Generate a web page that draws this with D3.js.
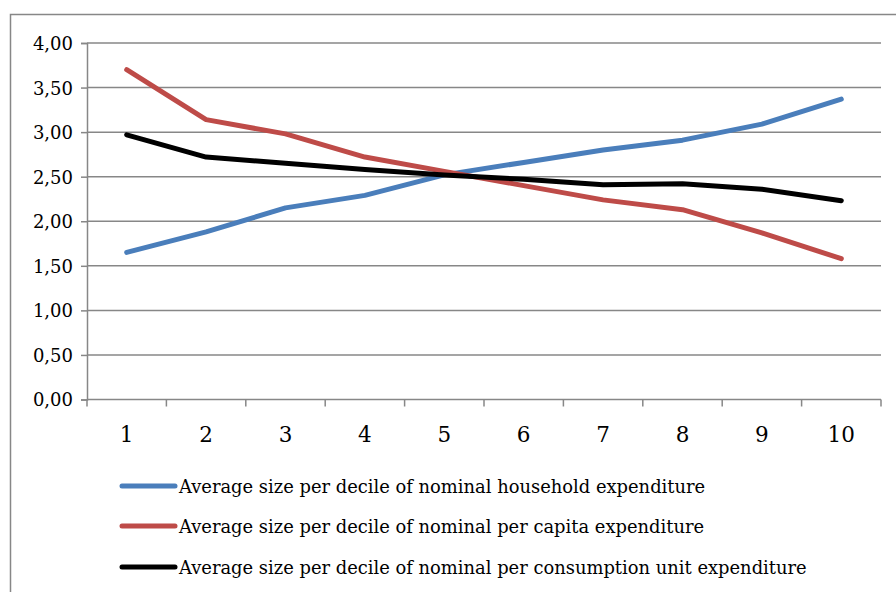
<!DOCTYPE html>
<html>
<head>
<meta charset="utf-8">
<script src="https://cdn.jsdelivr.net/npm/d3@7"></script>
<style>
  html, body { margin: 0; padding: 0; background: #fff; }
  svg { display: block; }
</style>
</head>
<body>
<svg id="chart" width="896" height="592"></svg>
<script>
// Deciles of expenditure
const deciles = [1, 2, 3, 4, 5, 6, 7, 8, 9, 10];

// Average household size per decile, for three ranking bases
const householdExp = [1.65, 1.88, 2.15, 2.29, 2.52, 2.66, 2.80, 2.91, 3.09, 3.37];
const perCapitaExp = [3.70, 3.14, 2.98, 2.72, 2.56, 2.40, 2.24, 2.13, 1.87, 1.58];
const perUnitExp   = [2.97, 2.72, 2.65, 2.58, 2.52, 2.47, 2.41, 2.42, 2.36, 2.23];

const yTicks = [0, 0.5, 1, 1.5, 2, 2.5, 3, 3.5, 4];

const seriesNames = [
  "Average size per decile of nominal household expenditure",
  "Average size per decile of nominal per capita expenditure",
  "Average size per decile of nominal per consumption unit expenditure"
];
const seriesColors = ["#4A7EBB", "#BE4B48", "#000000"];
const seriesValues = [householdExp, perCapitaExp, perUnitExp];

const svg = d3.select("#chart");
const font = "'DejaVu Serif', serif";
const gridColor = "#878787";

// Outer chart frame (runs past the right and bottom edges)
svg.append("rect")
  .attr("x", 10.5).attr("y", 14.5)
  .attr("width", 920).attr("height", 620)
  .attr("fill", "none").attr("stroke", gridColor).attr("stroke-width", 1.5);

const plot = { left: 87, right: 881, top: 43, bottom: 399.5 };

const x = d3.scaleBand().domain(deciles).range([plot.left, plot.right]).padding(0);
const y = d3.scaleLinear().domain([0, 4]).range([plot.bottom, plot.top]);

// Horizontal gridlines
svg.append("g").selectAll("line").data(yTicks.filter(d => d > 0)).join("line")
  .attr("x1", plot.left).attr("x2", plot.right)
  .attr("y1", d => y(d)).attr("y2", d => y(d))
  .attr("stroke", gridColor).attr("stroke-width", 1.5);

// Y axis
const yAxis = svg.append("g")
  .attr("transform", `translate(${plot.left},0)`)
  .call(d3.axisLeft(y).tickValues(yTicks).tickSize(6).tickPadding(8)
    .tickFormat(d => d3.format(".2f")(d).replace(".", ",")));
yAxis.select(".domain").attr("stroke", gridColor).attr("stroke-width", 1.5);
yAxis.selectAll(".tick line").attr("stroke", gridColor).attr("stroke-width", 1.5);
yAxis.selectAll(".tick text")
  .attr("font-family", font).attr("font-size", 18).attr("fill", "#000")
  .attr("dy", "0.36em");

// X axis: tick marks sit on the band boundaries, labels at band centres
const xg = svg.append("g");
xg.append("line")
  .attr("x1", plot.left).attr("x2", plot.right)
  .attr("y1", plot.bottom).attr("y2", plot.bottom)
  .attr("stroke", gridColor).attr("stroke-width", 1.5);
const boundaries = deciles.map(d => x(d)).concat([x(deciles[deciles.length - 1]) + x.bandwidth()]);
xg.selectAll("line.tk").data(boundaries).join("line").attr("class", "tk")
  .attr("x1", d => d).attr("x2", d => d)
  .attr("y1", plot.bottom).attr("y2", plot.bottom + 7)
  .attr("stroke", gridColor).attr("stroke-width", 1.5);
xg.selectAll("text").data(deciles).join("text")
  .attr("x", d => x(d) + x.bandwidth() / 2)
  .attr("y", 442)
  .attr("text-anchor", "middle")
  .attr("font-family", font).attr("font-size", 21.5).attr("fill", "#000")
  .text(d => d);

// Series lines
const line = d3.line()
  .x((d, i) => x(deciles[i]) + x.bandwidth() / 2)
  .y(d => y(d));

svg.append("g").selectAll("path").data(seriesValues).join("path")
  .attr("d", d => line(d))
  .attr("fill", "none")
  .attr("stroke", (d, i) => seriesColors[i])
  .attr("stroke-width", 5)
  .attr("stroke-linecap", "round")
  .attr("stroke-linejoin", "round");

// Legend
const legendY = [486, 526, 567];
const lg = svg.append("g").selectAll("g").data(seriesNames).join("g")
  .attr("transform", (d, i) => `translate(0,${legendY[i]})`);
lg.append("line")
  .attr("x1", 122).attr("x2", 175).attr("y1", 0).attr("y2", 0)
  .attr("stroke", (d, i) => seriesColors[i])
  .attr("stroke-width", 5).attr("stroke-linecap", "round");
lg.append("text")
  .attr("x", 179).attr("y", 6.5)
  .attr("font-family", font).attr("font-size", 17.9).attr("fill", "#000")
  .text(d => d);
</script>
</body>
</html>
